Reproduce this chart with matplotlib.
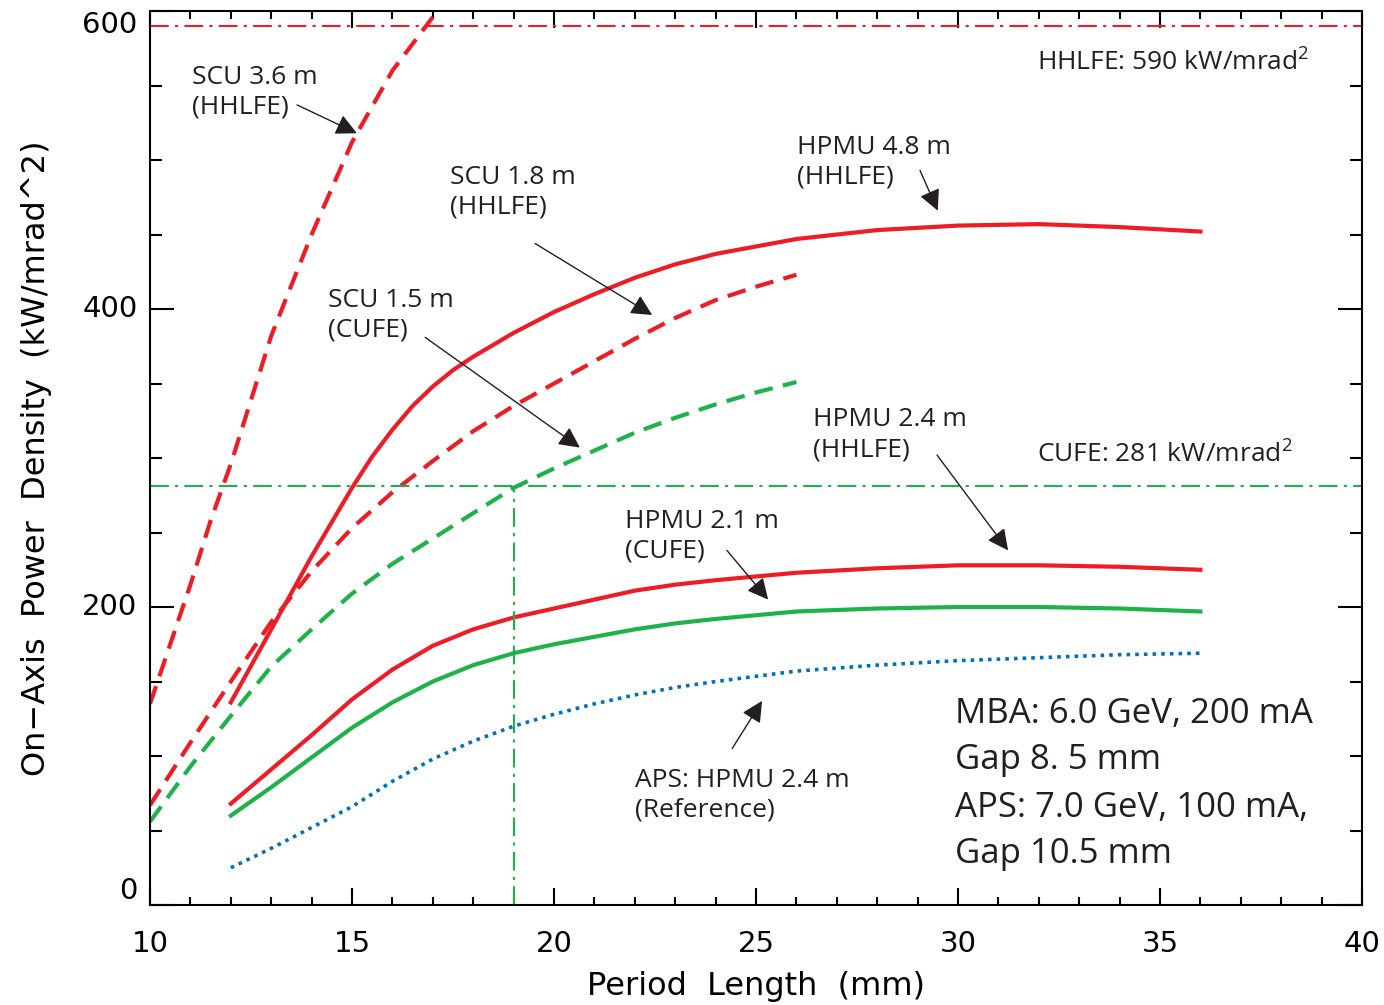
import matplotlib
matplotlib.use("Agg")
import matplotlib.pyplot as plt
from matplotlib.ticker import MultipleLocator
from matplotlib.transforms import offset_copy

plt.rcParams["mathtext.fontset"] = "custom"
plt.rcParams["mathtext.rm"] = "Open Sans"
plt.rcParams["mathtext.it"] = "Open Sans"

# period length (mm) and on-axis power density (kW/mrad^2)
scu36_x = [10, 10.5, 11, 11.5, 12, 13, 14, 15, 16, 17]
scu36_y = [135, 175, 215, 258, 296, 382, 450, 512, 560, 596]

scu18_x = [10, 11, 12, 13, 14, 15, 16, 17, 18, 19, 20, 21, 22, 23, 24, 25, 26]
scu18_y = [67, 109, 150, 190, 224, 253, 277, 298, 318, 335, 350, 365, 380, 394, 406, 415, 423]

scu15_x = [10, 11, 12, 13, 14, 15, 16, 17, 18, 19, 20, 21, 22, 23, 24, 25, 26]
scu15_y = [56, 93, 127, 160, 185, 209, 229, 246, 263, 280, 293, 305, 317, 327, 336, 344, 351]

hpmu48_x = [12, 13, 14, 15, 15.5, 16, 16.5, 17, 17.5, 18, 19, 20, 21, 22, 23, 24, 25, 26, 28, 30, 32, 34, 36]
hpmu48_y = [136, 185, 234, 280, 301, 319, 335, 348, 359, 368, 384, 398, 410, 421, 430, 437, 442, 447, 453, 456, 457, 455, 452]

hpmu_x = [12, 13, 14, 15, 16, 17, 18, 19, 20, 21, 22, 23, 24, 26, 28, 30, 32, 34, 36]
hpmu24_y = [68, 91, 114, 138, 158, 174, 185, 193, 199, 205, 211, 215, 218, 223, 226, 228, 228, 227, 225]
hpmu21_y = [60, 79, 99, 119, 136, 150, 161, 169, 175, 180, 185, 189, 192, 197, 199, 200, 200, 199, 197]
aps24_y = [25, 38, 52, 66, 83, 98, 110, 120, 128, 135, 141, 146, 150, 157, 161, 164, 166, 168, 169]

hhlfe_limit = 590
cufe_limit = 281
cufe_period = 19

ytick_vals = [0, 200, 400, 600]
ytick_va = ["bottom", "center", "center", "top"]

red = "#ee1c24"
green = "#1fb24a"
blue = "#0072bc"
ink = "#231f20"

fig = plt.figure(figsize=(13.84, 10.05), dpi=100)
ax = fig.add_axes([0.1084, 0.0995, 0.8757, 0.8895])

dash = (4.5, 2.5)
ax.plot(scu36_x, scu36_y, color=red, lw=3, dashes=dash)
ax.plot(scu18_x, scu18_y, color=red, lw=3, dashes=dash)
ax.plot(scu15_x, scu15_y, color=green, lw=3, dashes=dash)
ax.plot(hpmu48_x, hpmu48_y, color=red, lw=3)
ax.plot(hpmu_x, hpmu24_y, color=red, lw=3)
ax.plot(hpmu_x, hpmu21_y, color=green, lw=3)
ax.plot(hpmu_x, aps24_y, color=blue, lw=2.6, dashes=(1, 1.4))

dashdot = (9, 3, 1.5, 3)
ax.axhline(hhlfe_limit, color=red, lw=1.5, dashes=dashdot)
ax.axhline(cufe_limit, color=green, lw=1.5, dashes=dashdot)
ax.plot([cufe_period, cufe_period], [0, cufe_limit], color=green, lw=1.5, dashes=dashdot)

ax.set_xlim(10, 40)
ax.set_ylim(0, 600)
ax.xaxis.set_major_locator(MultipleLocator(5))
ax.xaxis.set_minor_locator(MultipleLocator(1))
ax.yaxis.set_major_locator(MultipleLocator(200))
ax.yaxis.set_minor_locator(MultipleLocator(50))
ax.tick_params(axis="both", which="both", direction="in", top=True, right=True,
               width=1.5, colors="black", labelsize=21)
ax.tick_params(axis="x", which="major", length=12, pad=18)
ax.tick_params(axis="x", which="minor", length=6)
ax.tick_params(axis="y", which="major", length=17, labelleft=False)
ax.tick_params(axis="y", which="minor", length=8.5)
for s in ax.spines.values():
    s.set_linewidth(1.5)

# y tick labels drawn by hand so the end labels sit inside the axis range (IDL style)
ylab_tr = offset_copy(ax.get_yaxis_transform(), fig=fig, x=-9, y=0, units="points")
for v, va in zip(ytick_vals, ytick_va):
    ax.text(0, v, str(v), transform=ylab_tr, ha="right", va=va, fontsize=21)

ax.set_xlabel("Period  Length  (mm)", fontsize=23, labelpad=9)
ax.set_ylabel("On\u2212Axis  Power  Density  (kW/mrad^2)", fontsize=23, labelpad=67)

afont = dict(family=["Open Sans", "DejaVu Sans"], color=ink, fontsize=19, linespacing=1.25)
arrow = dict(arrowstyle="-|>", color=ink, lw=1, mutation_scale=32, shrinkA=0, shrinkB=0)

notes = [
    ("SCU 3.6 m\n(HHLFE)", (11.04, 564), (13.64, 537), (15.12, 518)),
    ("SCU 1.8 m\n(HHLFE)", (17.43, 497), (19.53, 444), (22.43, 396)),
    ("HPMU 4.8 m\n(HHLFE)", (26.01, 517), (29.06, 493), (29.5, 466)),
    ("SCU 1.5 m\n(CUFE)", (14.41, 414), (16.81, 381), (20.64, 307)),
    ("HPMU 2.4 m\n(HHLFE)", (26.41, 334), (29.48, 302), (31.24, 238)),
    ("HPMU 2.1 m\n(CUFE)", (21.76, 266), (24.28, 238), (25.3, 205)),
    ("APS: HPMU 2.4 m\n(Reference)", (22.0, 92), (24.41, 105), (25.15, 137)),
]
for txt, pos, tail, tip in notes:
    ax.text(pos[0], pos[1], txt, ha="left", va="top", **afont)
    ax.annotate("", xy=tip, xytext=tail, arrowprops=arrow)

ax.text(31.95, 560, r"HHLFE: 590 kW/mrad$^{2}$", ha="left", va="baseline", **afont)
ax.text(31.95, 297, r"CUFE: 281 kW/mrad$^{2}$", ha="left", va="baseline", **afont)

info = ["MBA: 6.0 GeV, 200 mA", "Gap 8. 5 mm", "APS: 7.0 GeV, 100 mA,", "Gap 10.5 mm"]
info_y = [122, 91, 59, 28]
for line, yy in zip(info, info_y):
    ax.text(29.93, yy, line, ha="left", va="baseline", family=["Open Sans", "DejaVu Sans"],
            color=ink, fontsize=25)

fig.savefig("out.png", dpi=100)
